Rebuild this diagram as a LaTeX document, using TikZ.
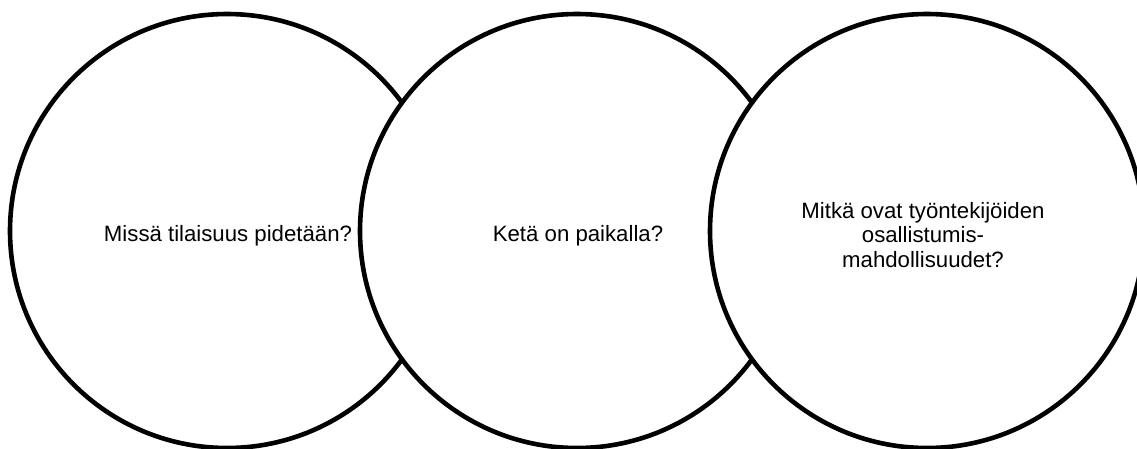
\documentclass[tikz,border=0pt]{standalone}
\usepackage{fontspec}
\setmainfont{Liberation Sans}
\begin{document}
\begin{tikzpicture}[x=1pt,y=-1pt,
  ring/.style={circle, draw=black, fill=white, line width=4.6pt, minimum size=434pt, inner sep=0pt},
  question/.style={font=\fontsize{22.2}{24.5}\selectfont, align=center, inner sep=0pt}]
  \useasboundingbox (0,0) rectangle (1137,448);
  \clip (0,0) rectangle (1137,448);
  % three overlapping circles, each later one painted over the previous
  \node[ring] (c1) at (227,231) {};
  \node[question] (q1) at (228,236) {Missä tilaisuus pidetään?};
  \node[ring] (c2) at (577,231) {};
  \node[question] (q2) at (578,236) {Ketä on paikalla?};
  \node[ring] (c3) at (927,231) {};
  \node[question] (q3) at (923,235) {Mitkä ovat työntekijöiden\\osallistumis-\\mahdollisuudet?};
\end{tikzpicture}
\end{document}
